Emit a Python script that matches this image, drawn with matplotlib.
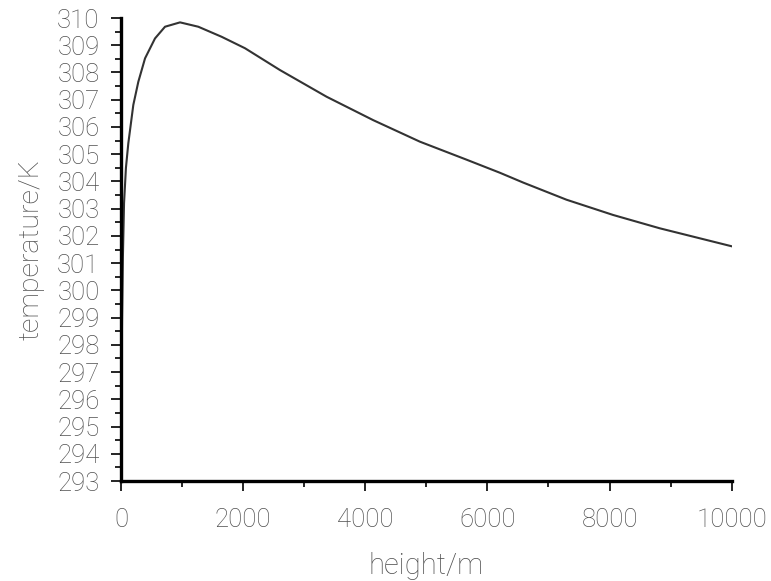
import matplotlib
matplotlib.use("Agg")
import matplotlib.pyplot as plt
from matplotlib.ticker import MultipleLocator

# values
height_m = [0, 8, 16, 30, 49, 80, 119, 201, 283, 393, 556, 720, 966, 1265,
            1648, 2030, 2602, 3366, 4130, 4894, 5657, 6203, 6584, 7294, 8057,
            8822, 10000]
temperature_k = [293.0, 296.5, 298.9, 301.2, 303.2, 304.5, 305.4, 306.81,
                 307.66, 308.52, 309.25, 309.68, 309.84, 309.68, 309.31,
                 308.89, 308.09, 307.11, 306.25, 305.46, 304.80, 304.32,
                 303.96, 303.33, 302.77, 302.28, 301.62]

plt.rcParams["font.family"] = ["Roboto", "DejaVu Sans"]
plt.rcParams["font.weight"] = "light"

fig = plt.figure(figsize=(7.71, 5.81), dpi=100)
ax = fig.add_axes([0.157, 0.172, 0.792, 0.797])

ax.plot(height_m, temperature_k, color="#333333", linewidth=1.5)

ax.set_xlim(0, 10000)
ax.set_ylim(293, 310)
ax.xaxis.set_major_locator(MultipleLocator(2000))
ax.xaxis.set_minor_locator(MultipleLocator(1000))
ax.yaxis.set_major_locator(MultipleLocator(1))
ax.yaxis.set_minor_locator(MultipleLocator(0.5))

for side in ("top", "right"):
    ax.spines[side].set_visible(False)
for side in ("left", "bottom"):
    ax.spines[side].set_linewidth(2.4)

text_color = "#505050"
ax.tick_params(which="major", length=7.5, width=1.2, direction="out", labelsize=18.5,
               labelcolor=text_color)
ax.tick_params(which="minor", length=4, width=1.2, direction="out")
ax.tick_params(axis="x", which="major", pad=12)
ax.tick_params(axis="y", which="major", pad=8)

ax.set_xlabel("height/m", fontsize=21, color=text_color, labelpad=14, fontweight="light")
ax.set_ylabel("temperature/K", fontsize=20.5, color=text_color, labelpad=9, fontweight="light")

fig.savefig("out.png", dpi=100)
